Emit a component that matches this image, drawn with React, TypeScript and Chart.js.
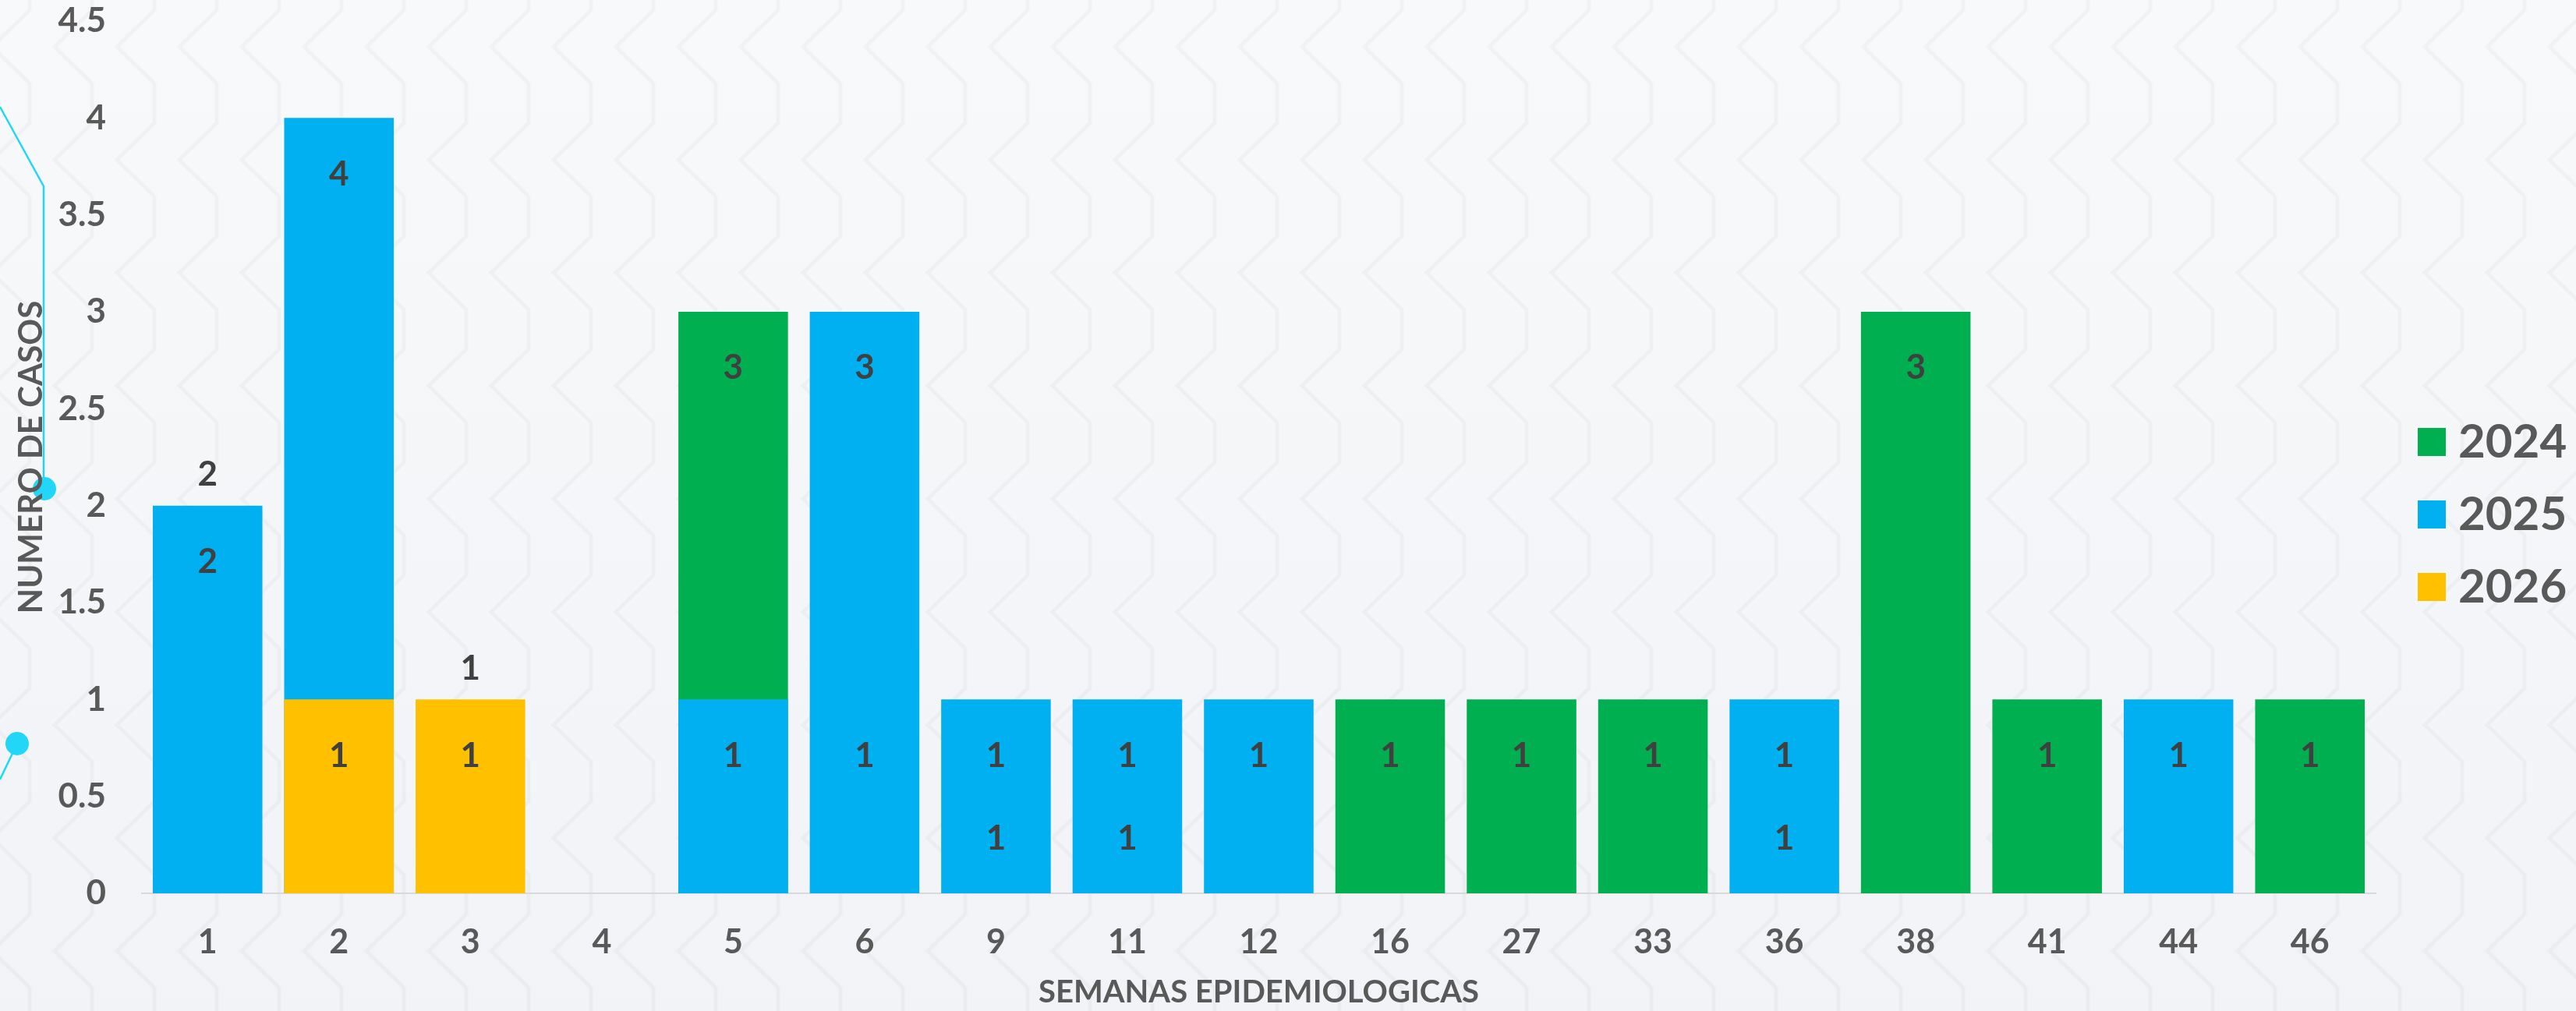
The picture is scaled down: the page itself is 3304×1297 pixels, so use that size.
import React, { useEffect, useRef } from 'react';
import { Chart, registerables } from 'chart.js';

Chart.register(...registerables);

// ---- Data ----
const semanas = ['1', '2', '3', '4', '5', '6', '9', '11', '12', '16', '27', '33', '36', '38', '41', '44', '46'];
const anios = ['2024', '2025', '2026'];
const casos2024 = [null, null, null, null, 3, null, null, null, null, 1, 1, 1, null, 3, 1, null, 1];
const casos2025 = [2, 4, null, null, 1, 3, 1, 1, 1, null, null, null, 1, null, null, 1, null];
const casos2026 = [null, 1, 1, null, null, null, null, null, null, null, null, null, null, null, null, null, null];
// additional data labels that appear in the source chart
const etiquetasSobreBarra = [2, null, 1, null, null, null, null, null, null, null, null, null, null, null, null, null, null];
const etiquetasOcultasFin = [null, null, null, null, null, 1, null, null, null, null, null, null, null, null, null, null, null];
const etiquetasOcultasBase = [null, null, null, null, null, null, 1, 1, null, null, null, null, 1, null, null, null, null];
const yMax = 4.5;
const yStep = 0.5;

const colores = ['#00B050', '#00B0F0', '#FFC000'];
const FONT = 'Lato';

const fondoPlugin = {
  id: 'fondo',
  beforeDraw(chart: any) {
    const { ctx, width, height } = chart;
    ctx.save();
    const g = ctx.createLinearGradient(0, 0, 0, height);
    g.addColorStop(0, '#F8F9FA');
    g.addColorStop(1, '#F1F3F7');
    ctx.fillStyle = g;
    ctx.fillRect(0, 0, width, height);
    // subtle zig-zag background pattern
    ctx.strokeStyle = 'rgba(0,0,0,0.028)';
    ctx.lineWidth = 5;
    ctx.lineJoin = 'miter';
    for (let X = 38; X < width + 80; X += 80) {
      ctx.beginPath();
      let first = true;
      for (let Y0 = 60 - 145; Y0 < height + 145; Y0 += 145) {
        if (first) {
          ctx.moveTo(X - 48, Y0);
          first = false;
        } else {
          ctx.lineTo(X - 48, Y0);
        }
        ctx.lineTo(X, Y0 + 47);
        ctx.lineTo(X, Y0 + 98);
      }
      ctx.stroke();
    }
    // decorative cyan lines
    ctx.strokeStyle = '#22D6F8';
    ctx.fillStyle = '#22D6F8';
    ctx.lineWidth = 2.5;
    ctx.beginPath();
    ctx.moveTo(0, 137);
    ctx.lineTo(56, 239);
    ctx.lineTo(56, 615);
    ctx.stroke();
    ctx.beginPath();
    ctx.arc(57, 627, 15, 0, Math.PI * 2);
    ctx.fill();
    ctx.beginPath();
    ctx.moveTo(22, 954);
    ctx.lineTo(0, 1000);
    ctx.stroke();
    ctx.beginPath();
    ctx.arc(22, 954, 15, 0, Math.PI * 2);
    ctx.fill();
    ctx.restore();
  },
};

const etiquetasPlugin = {
  id: 'etiquetas',
  afterDatasetsDraw(chart: any) {
    const { ctx } = chart;
    const xs = chart.scales.x;
    const ys = chart.scales.y;
    ctx.save();
    ctx.font = `bold 44px ${FONT}`;
    ctx.fillStyle = '#404040';
    ctx.textAlign = 'center';
    ctx.textBaseline = 'middle';
    chart.data.datasets.forEach((ds: any, i: number) => {
      const meta = chart.getDatasetMeta(i);
      ds.data.forEach((v: number | null, j: number) => {
        if (v == null) return;
        const el = meta.data[j];
        ctx.fillText(String(v), el.x, el.y + 72);
      });
    });
    etiquetasSobreBarra.forEach((v, j) => {
      if (v == null) return;
      ctx.fillText(String(v), xs.getPixelForValue(j), ys.getPixelForValue(v) - 40);
    });
    etiquetasOcultasFin.forEach((v, j) => {
      if (v == null) return;
      ctx.fillText(String(v), xs.getPixelForValue(j), ys.getPixelForValue(v) + 72);
    });
    etiquetasOcultasBase.forEach((v, j) => {
      if (v == null) return;
      ctx.fillText(String(v), xs.getPixelForValue(j), ys.getPixelForValue(0) - 70);
    });
    ctx.restore();
  },
};

const leyendaPlugin = {
  id: 'leyenda',
  afterDraw(chart: any) {
    const { ctx } = chart;
    ctx.save();
    ctx.font = `bold 60px ${FONT}`;
    ctx.textAlign = 'left';
    ctx.textBaseline = 'middle';
    chart.data.datasets.forEach((ds: any, i: number) => {
      const cy = 567 + i * 93;
      ctx.fillStyle = ds.backgroundColor;
      ctx.fillRect(3101, cy - 18, 36, 36);
      ctx.fillStyle = '#595959';
      ctx.fillText(ds.label, 3153, cy + 1);
    });
    ctx.restore();
  },
};

export default function App() {
  const ref = useRef<HTMLCanvasElement | null>(null);

  useEffect(() => {
    if (!ref.current) return;
    const series = [casos2024, casos2025, casos2026];
    const chart = new Chart(ref.current, {
      type: 'bar',
      data: {
        labels: semanas,
        datasets: anios.map((a, i) => ({
          label: a,
          data: series[i],
          backgroundColor: colores[i],
          borderWidth: 0,
          grouped: false,
          order: 3 - i,
          barPercentage: 0.834,
          categoryPercentage: 1,
        })) as any,
      },
      options: {
        responsive: false,
        devicePixelRatio: 1,
        animation: false,
        layout: { padding: { top: 27, right: 257, left: 0, bottom: 0 } },
        plugins: {
          legend: { display: false },
          tooltip: { enabled: false },
        },
        scales: {
          x: {
            grid: { display: false, drawTicks: false },
            border: { display: true, color: '#D9D9D9', width: 2 },
            ticks: {
              color: '#595959',
              font: { family: FONT, size: 43, weight: 'bold' },
              padding: 37,
              maxRotation: 0,
              autoSkip: false,
            },
            title: {
              display: true,
              text: 'SEMANAS EPIDEMIOLOGICAS',
              color: '#595959',
              font: { family: FONT, size: 40, weight: 'bold' },
              padding: { top: 0, bottom: 0 },
            },
            afterFit(scale: any) {
              scale.height = 151;
              scale.paddingLeft = 0;
              scale.paddingRight = 0;
            },
          },
          y: {
            min: 0,
            max: yMax,
            grid: { display: false, drawTicks: false },
            border: { display: false },
            ticks: {
              stepSize: yStep,
              color: '#595959',
              font: { family: FONT, size: 44, weight: 'bold' },
              padding: 46,
              callback: (v: any) => String(Number(v)),
            },
            title: {
              display: true,
              text: 'NUMERO DE CASOS',
              color: '#595959',
              font: { family: FONT, size: 42, weight: 'bold' },
              padding: { top: 15, bottom: 0 },
            },
            afterFit(scale: any) {
              scale.width = 182;
              scale.paddingTop = 0;
              scale.paddingBottom = 0;
            },
          },
        },
      } as any,
      plugins: [fondoPlugin, etiquetasPlugin, leyendaPlugin],
    });
    return () => chart.destroy();
  }, []);

  return (
    <div style={{ position: 'fixed', left: 0, top: 0, width: 3304, height: 1297, background: '#F4F6F9' }}>
      <canvas ref={ref} width={3304} height={1297} style={{ display: 'block', width: 3304, height: 1297 }} />
    </div>
  );
}
